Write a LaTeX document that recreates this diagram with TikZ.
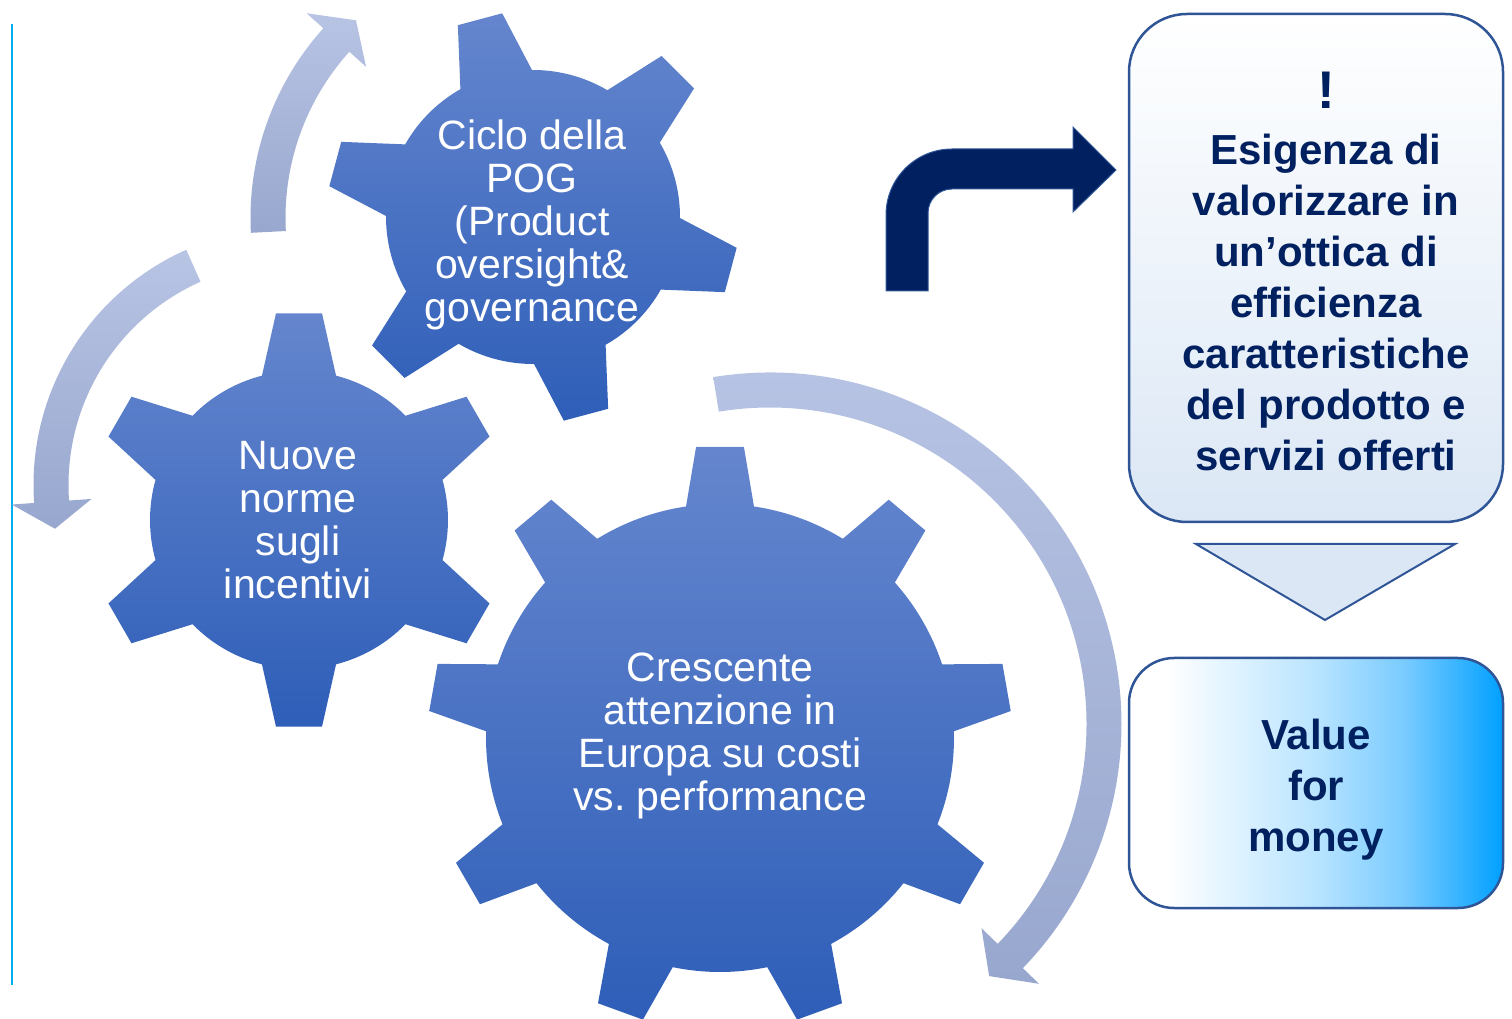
\documentclass[tikz,border=0pt]{standalone}
\usepackage{fontspec}
\setmainfont{Liberation Sans}
\usetikzlibrary{positioning}

\definecolor{gearTop}{RGB}{101,134,206}
\definecolor{gearBot}{RGB}{46,94,184}
\definecolor{cycleTop}{RGB}{184,196,228}
\definecolor{cycleBot}{RGB}{152,167,206}
\definecolor{navy}{RGB}{0,32,96}
\definecolor{boxLine}{RGB}{47,85,151}
\definecolor{boxPale}{RGB}{219,231,245}
\definecolor{sideLine}{RGB}{0,176,240}
\definecolor{vlight}{RGB}{185,228,255}
\definecolor{vmid}{RGB}{120,203,255}
\definecolor{vfull}{RGB}{0,160,255}

\pgfdeclarehorizontalshading{valueshade}{100bp}{color(0bp)=(white); color(30bp)=(white); color(50bp)=(vlight); color(62bp)=(vmid); color(75bp)=(vfull); color(100bp)=(vfull)}

\tikzset{
  gearfill/.style={top color=gearTop, bottom color=gearBot},
  geartext/.style={text=white, align=center, inner sep=0pt, font=\frenchspacing\fontsize{41}{43}\selectfont},
  cyclefill/.style={top color=cycleTop, bottom color=cycleBot},
  roundbox/.style={draw=boxLine, line width=2.5pt},
  boxtext/.style={text=navy, align=center, inner sep=0pt, font=\bfseries\fontsize{42}{51}\selectfont}
}

%% gear: center, teeth, first tooth angle, body radius, tip radius, base half angle, tip half angle
\newcommand{\drawgear}[7]{%
  \shade[gearfill, shift={(#1)}] ({#3-#6}:#4)
    \foreach \k in {1,...,#2}{
      -- ({#3+(\k-1)*360/#2-#7}:#5)
      -- ({#3+(\k-1)*360/#2+#7}:#5)
      -- ({#3+(\k-1)*360/#2+#6}:#4)
      arc[start angle={#3+(\k-1)*360/#2+#6}, end angle={#3+\k*360/#2-#6}, radius=#4]
    } -- cycle;
}

%% curved arrow: center, radius, start angle, shaft end angle, tip angle
\newcommand{\cyclearrow}[5]{%
  \shade[cyclefill, shift={(#1)}] ({#3}:{#2+17.5}) arc[start angle=#3, end angle=#4, radius={#2+17.5}]
    -- ({#4}:{#2+40}) -- ({#5}:#2) -- ({#4}:{#2-40}) -- ({#4}:{#2-17.5})
    arc[start angle=#4, end angle=#3, radius={#2-17.5}] -- cycle;
}

\begin{document}
\begin{tikzpicture}[x=1pt,y=1pt]
        \useasboundingbox (0,0) rectangle (1512,1018);
        %% side rule
        \coordinate (ruleTop) at (12,994);
        \coordinate (ruleBot) at (12,33);
        \draw[sideLine, line width=2.5pt] (ruleTop) -- (ruleBot);

        %% gear centres
        \coordinate (gPOG) at (533,801);
        \coordinate (gNorme) at (299,498);
        \coordinate (gEuropa) at (720,280);

        %% cycle arrows
        \cyclearrow{534,800}{266}{183}{138}{132}
        \cyclearrow{291,533}{240}{114}{184}{190.5}
        \cyclearrow{770,294}{334}{99.3}{-44}{-49}

        %% gears
        \drawgear{gPOG}{6}{45}{147}{206}{14.6}{6.4}
        \drawgear{gNorme}{6}{90}{149}{208}{14.4}{6.35}
        \drawgear{gEuropa}{9}{10}{234}{292}{8.35}{4.7}

        \node[geartext] (pog) at (532,793) {Ciclo della\\POG\\(Product\\oversight\&\\governance};
        \node[geartext] (norme) at (298,498) {Nuove\\norme\\sugli\\incentivi};
        \node[geartext] (europa) at (720,282) {Crescente\\attenzione in\\Europa su costi\\vs. performance};

        %% bent arrow
        \filldraw[fill=navy, draw=boxLine, line width=1pt] (886,727) -- (886,803)
            arc[start angle=180, end angle=90, radius=66] -- (1073,869) -- (1073,891)
            -- (1116,848) -- (1073,806) -- (1073,829) -- (952,829)
            arc[start angle=90, end angle=180, radius=24] -- (928,727) -- cycle;

        %% boxes
        \node[roundbox, top color=white, bottom color=boxPale, rounded corners=58pt,
              minimum width=374pt, minimum height=508pt] (need) at (1316,750) {};
        \node[text=navy, inner sep=0pt, font=\bfseries\fontsize{53}{56}\selectfont] (excl) at (1326,928) {!};
        \node[boxtext] (needtext) at (1326,716) {Esigenza di\\valorizzare in\\un’ottica di\\efficienza\\caratteristiche\\del prodotto e\\servizi offerti};

        \filldraw[fill=boxPale, draw=boxLine, line width=2pt] (1196,474) -- (1455,474) -- (1325,398) -- cycle;

        \node[roundbox, shading=valueshade, rounded corners=45pt,
              minimum width=374pt, minimum height=250pt] (value) at (1316,235) {};
        \node[boxtext] (valuetext) at (1316,228) {Value\\for\\money};
\end{tikzpicture}
\end{document}
